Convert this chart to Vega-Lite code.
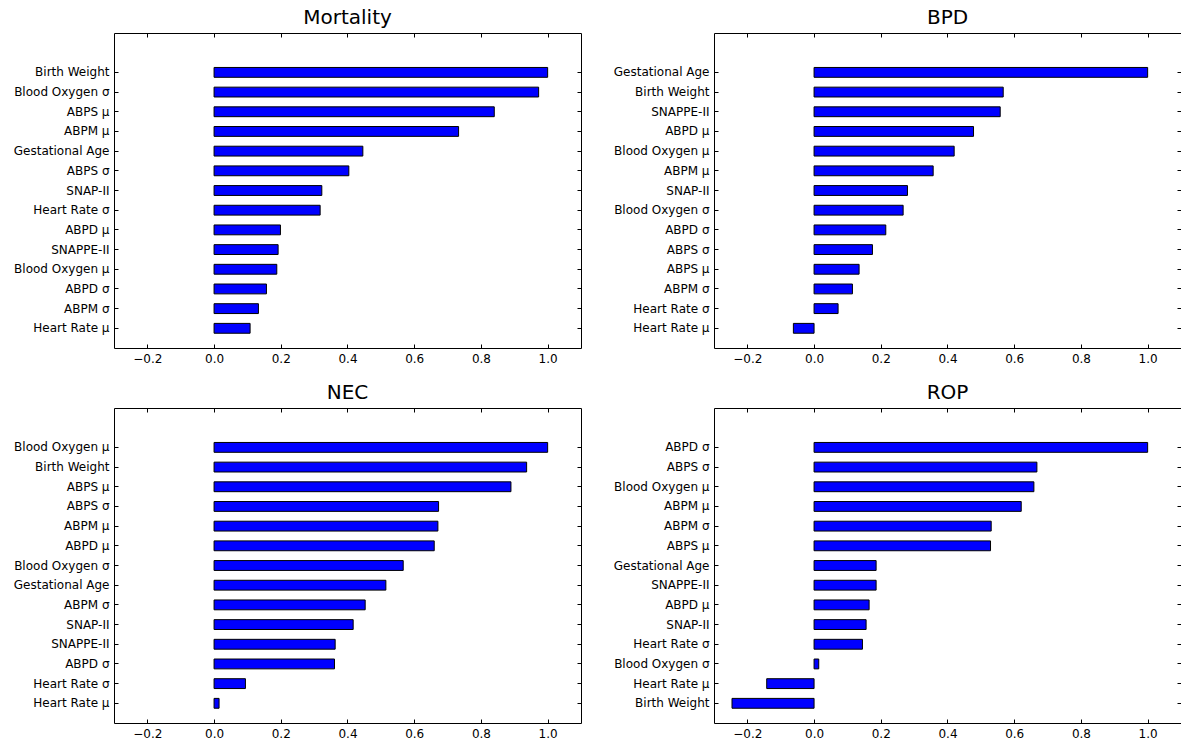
{
  "$schema": "https://vega.github.io/schema/vega-lite/v6.json",
  "background": "white",
  "padding": {"left": 12, "top": 7, "right": 0, "bottom": 0},
  "autosize": {"type": "pad"},
  "datasets": {
    "d": [
      {"panel": "Mortality", "feature": "Birth Weight", "value": 1.0},
      {"panel": "Mortality", "feature": "Blood Oxygen σ", "value": 0.973},
      {"panel": "Mortality", "feature": "ABPS μ", "value": 0.840},
      {"panel": "Mortality", "feature": "ABPM μ", "value": 0.733},
      {"panel": "Mortality", "feature": "Gestational Age", "value": 0.446},
      {"panel": "Mortality", "feature": "ABPS σ", "value": 0.404},
      {"panel": "Mortality", "feature": "SNAP-II", "value": 0.323},
      {"panel": "Mortality", "feature": "Heart Rate σ", "value": 0.318},
      {"panel": "Mortality", "feature": "ABPD μ", "value": 0.199},
      {"panel": "Mortality", "feature": "SNAPPE-II", "value": 0.192},
      {"panel": "Mortality", "feature": "Blood Oxygen μ", "value": 0.188},
      {"panel": "Mortality", "feature": "ABPD σ", "value": 0.157},
      {"panel": "Mortality", "feature": "ABPM σ", "value": 0.133},
      {"panel": "Mortality", "feature": "Heart Rate μ", "value": 0.108},

      {"panel": "BPD", "feature": "Gestational Age", "value": 1.0},
      {"panel": "BPD", "feature": "Birth Weight", "value": 0.567},
      {"panel": "BPD", "feature": "SNAPPE-II", "value": 0.558},
      {"panel": "BPD", "feature": "ABPD μ", "value": 0.478},
      {"panel": "BPD", "feature": "Blood Oxygen μ", "value": 0.420},
      {"panel": "BPD", "feature": "ABPM μ", "value": 0.357},
      {"panel": "BPD", "feature": "SNAP-II", "value": 0.280},
      {"panel": "BPD", "feature": "Blood Oxygen σ", "value": 0.267},
      {"panel": "BPD", "feature": "ABPD σ", "value": 0.215},
      {"panel": "BPD", "feature": "ABPS σ", "value": 0.175},
      {"panel": "BPD", "feature": "ABPS μ", "value": 0.135},
      {"panel": "BPD", "feature": "ABPM σ", "value": 0.115},
      {"panel": "BPD", "feature": "Heart Rate σ", "value": 0.072},
      {"panel": "BPD", "feature": "Heart Rate μ", "value": -0.062},

      {"panel": "NEC", "feature": "Blood Oxygen μ", "value": 1.0},
      {"panel": "NEC", "feature": "Birth Weight", "value": 0.937},
      {"panel": "NEC", "feature": "ABPS μ", "value": 0.890},
      {"panel": "NEC", "feature": "ABPS σ", "value": 0.673},
      {"panel": "NEC", "feature": "ABPM μ", "value": 0.671},
      {"panel": "NEC", "feature": "ABPD μ", "value": 0.660},
      {"panel": "NEC", "feature": "Blood Oxygen σ", "value": 0.567},
      {"panel": "NEC", "feature": "Gestational Age", "value": 0.515},
      {"panel": "NEC", "feature": "ABPM σ", "value": 0.453},
      {"panel": "NEC", "feature": "SNAP-II", "value": 0.417},
      {"panel": "NEC", "feature": "SNAPPE-II", "value": 0.363},
      {"panel": "NEC", "feature": "ABPD σ", "value": 0.361},
      {"panel": "NEC", "feature": "Heart Rate σ", "value": 0.094},
      {"panel": "NEC", "feature": "Heart Rate μ", "value": 0.015},

      {"panel": "ROP", "feature": "ABPD σ", "value": 1.0},
      {"panel": "ROP", "feature": "ABPS σ", "value": 0.668},
      {"panel": "ROP", "feature": "Blood Oxygen μ", "value": 0.659},
      {"panel": "ROP", "feature": "ABPM μ", "value": 0.621},
      {"panel": "ROP", "feature": "ABPM σ", "value": 0.531},
      {"panel": "ROP", "feature": "ABPS μ", "value": 0.529},
      {"panel": "ROP", "feature": "Gestational Age", "value": 0.186},
      {"panel": "ROP", "feature": "SNAPPE-II", "value": 0.186},
      {"panel": "ROP", "feature": "ABPD μ", "value": 0.165},
      {"panel": "ROP", "feature": "SNAP-II", "value": 0.156},
      {"panel": "ROP", "feature": "Heart Rate σ", "value": 0.145},
      {"panel": "ROP", "feature": "Blood Oxygen σ", "value": 0.014},
      {"panel": "ROP", "feature": "Heart Rate μ", "value": -0.142},
      {"panel": "ROP", "feature": "Birth Weight", "value": -0.246}
    ]
  },
  "columns": 2,
  "spacing": {"row": 60, "column": 133},
  "bounds": "flush",
  "concat": [
    {
      "title": "Mortality",
      "width": 467, "height": 315,
      "data": {"name": "d"},
      "transform": [{"filter": "datum.panel === 'Mortality'"}],
      "layer": [
        {
          "mark": {"type": "bar", "fill": "#0000ff", "stroke": "black", "strokeWidth": 1, "height": {"band": 0.5}},
          "encoding": {
            "y": {"field": "feature", "type": "nominal", "sort": null, "scale": {"paddingInner": 0, "paddingOuter": 1, "align": 0.75}, "axis": {"title": null, "orient": "left"}},
            "x": {"field": "value", "type": "quantitative", "scale": {"domain": [-0.3, 1.1], "nice": false, "zero": false}, "axis": {"title": null, "orient": "bottom", "values": [-0.2, 0, 0.2, 0.4, 0.6, 0.8, 1.0], "format": ".1f"}}
          }
        },
        {
          "mark": {"type": "bar", "opacity": 0, "height": {"band": 0.5}},
          "encoding": {
            "y": {"field": "feature", "type": "nominal", "sort": null, "axis": {"title": null, "orient": "right", "labels": false}},
            "x": {"field": "value", "type": "quantitative", "axis": {"title": null, "orient": "top", "labels": false, "values": [-0.2, 0, 0.2, 0.4, 0.6, 0.8, 1.0]}}
          }
        }
      ],
      "resolve": {"axis": {"x": "independent", "y": "independent"}}
    },
    {
      "title": "BPD",
      "width": 467, "height": 315,
      "data": {"name": "d"},
      "transform": [{"filter": "datum.panel === 'BPD'"}],
      "layer": [
        {
          "mark": {"type": "bar", "fill": "#0000ff", "stroke": "black", "strokeWidth": 1, "height": {"band": 0.5}},
          "encoding": {
            "y": {"field": "feature", "type": "nominal", "sort": null, "scale": {"paddingInner": 0, "paddingOuter": 1, "align": 0.75}, "axis": {"title": null, "orient": "left"}},
            "x": {"field": "value", "type": "quantitative", "scale": {"domain": [-0.3, 1.1], "nice": false, "zero": false}, "axis": {"title": null, "orient": "bottom", "values": [-0.2, 0, 0.2, 0.4, 0.6, 0.8, 1.0], "format": ".1f"}}
          }
        },
        {
          "mark": {"type": "bar", "opacity": 0, "height": {"band": 0.5}},
          "encoding": {
            "y": {"field": "feature", "type": "nominal", "sort": null, "axis": {"title": null, "orient": "right", "labels": false}},
            "x": {"field": "value", "type": "quantitative", "axis": {"title": null, "orient": "top", "labels": false, "values": [-0.2, 0, 0.2, 0.4, 0.6, 0.8, 1.0]}}
          }
        }
      ],
      "resolve": {"axis": {"x": "independent", "y": "independent"}}
    },
    {
      "title": "NEC",
      "width": 467, "height": 315,
      "data": {"name": "d"},
      "transform": [{"filter": "datum.panel === 'NEC'"}],
      "layer": [
        {
          "mark": {"type": "bar", "fill": "#0000ff", "stroke": "black", "strokeWidth": 1, "height": {"band": 0.5}},
          "encoding": {
            "y": {"field": "feature", "type": "nominal", "sort": null, "scale": {"paddingInner": 0, "paddingOuter": 1, "align": 0.75}, "axis": {"title": null, "orient": "left"}},
            "x": {"field": "value", "type": "quantitative", "scale": {"domain": [-0.3, 1.1], "nice": false, "zero": false}, "axis": {"title": null, "orient": "bottom", "values": [-0.2, 0, 0.2, 0.4, 0.6, 0.8, 1.0], "format": ".1f"}}
          }
        },
        {
          "mark": {"type": "bar", "opacity": 0, "height": {"band": 0.5}},
          "encoding": {
            "y": {"field": "feature", "type": "nominal", "sort": null, "axis": {"title": null, "orient": "right", "labels": false}},
            "x": {"field": "value", "type": "quantitative", "axis": {"title": null, "orient": "top", "labels": false, "values": [-0.2, 0, 0.2, 0.4, 0.6, 0.8, 1.0]}}
          }
        }
      ],
      "resolve": {"axis": {"x": "independent", "y": "independent"}}
    },
    {
      "title": "ROP",
      "width": 467, "height": 315,
      "data": {"name": "d"},
      "transform": [{"filter": "datum.panel === 'ROP'"}],
      "layer": [
        {
          "mark": {"type": "bar", "fill": "#0000ff", "stroke": "black", "strokeWidth": 1, "height": {"band": 0.5}},
          "encoding": {
            "y": {"field": "feature", "type": "nominal", "sort": null, "scale": {"paddingInner": 0, "paddingOuter": 1, "align": 0.75}, "axis": {"title": null, "orient": "left"}},
            "x": {"field": "value", "type": "quantitative", "scale": {"domain": [-0.3, 1.1], "nice": false, "zero": false}, "axis": {"title": null, "orient": "bottom", "values": [-0.2, 0, 0.2, 0.4, 0.6, 0.8, 1.0], "format": ".1f"}}
          }
        },
        {
          "mark": {"type": "bar", "opacity": 0, "height": {"band": 0.5}},
          "encoding": {
            "y": {"field": "feature", "type": "nominal", "sort": null, "axis": {"title": null, "orient": "right", "labels": false}},
            "x": {"field": "value", "type": "quantitative", "axis": {"title": null, "orient": "top", "labels": false, "values": [-0.2, 0, 0.2, 0.4, 0.6, 0.8, 1.0]}}
          }
        }
      ],
      "resolve": {"axis": {"x": "independent", "y": "independent"}}
    }
  ],
  "config": {
    "view": {"stroke": "black", "strokeWidth": 1, "fill": "white"},
    "axis": {
      "grid": false,
      "domain": false,
      "ticks": true,
      "tickColor": "black",
      "tickSize": -4,
      "tickWidth": 1,
      "labelColor": "black",
      "labelFont": "DejaVu Sans",
      "labelFontSize": 12,
      "labelPadding": 9,
      "labelOverlap": false,
      "labelFlush": false
    },
    "title": {"font": "DejaVu Sans", "fontSize": 20, "fontWeight": "normal", "color": "black", "anchor": "middle", "baseline": "alphabetic", "offset": 5}
  }
}
